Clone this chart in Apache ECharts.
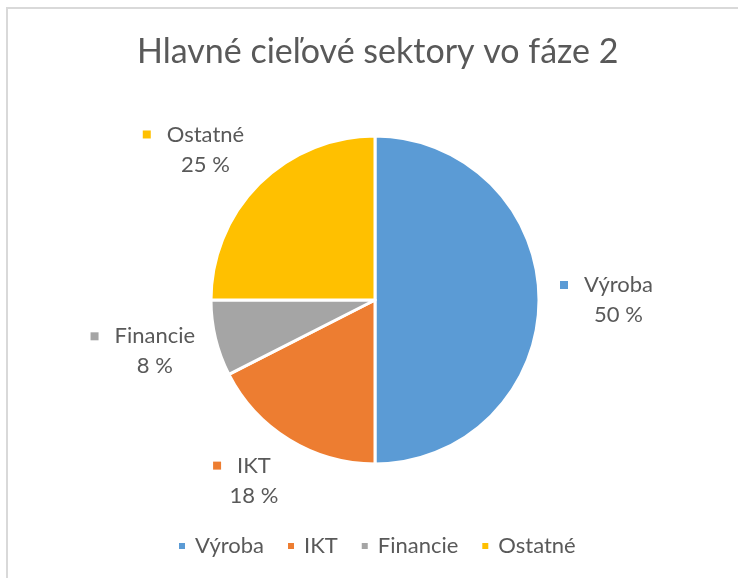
<!DOCTYPE html>
<html>
<head>
<meta charset="utf-8">
<script src="https://cdn.jsdelivr.net/npm/echarts@6/dist/echarts.min.js"></script>
<style>
html,body{margin:0;padding:0;background:#fff;}
#c{width:738px;height:578px;}
</style>
</head>
<body>
<div id="c"></div>
<script>
const titleText = 'Hlavné cieľové sektory vo fáze 2';
const categories = ['Výroba', 'IKT', 'Financie', 'Ostatné'];
const values = [50, 17.5, 7.5, 25];
const colors = ['#5B9BD5', '#ED7D31', '#A5A5A5', '#FFC000'];

const FONT = 'Lato';
const TXT = '#595959';
const CX = 375, CY = 300, R = 164, ANCHOR = 185;

const data = categories.map((n, i) => ({ name: n, value: values[i], itemStyle: { color: colors[i] } }));

const rich = { n: { fontFamily: FONT, fontSize: 22, color: TXT, lineHeight: 30, padding: [0, 0, 0, 16] },
               p: { fontFamily: FONT, fontSize: 22, color: TXT, lineHeight: 30, padding: [0, 0, 0, 24] } };
colors.forEach((c, i) => { rich['m' + i] = { backgroundColor: c, width: 8, height: 8 }; });

const total = values.reduce((a, b) => a + b, 0);
function midAngle(i) {
  let s = 0;
  for (let k = 0; k < i; k++) s += values[k];
  return (s + values[i] / 2) / total * 2 * Math.PI; // clockwise from top
}

const chart = echarts.init(document.getElementById('c'), null, { renderer: 'canvas' });
chart.setOption({
  backgroundColor: '#fff',
  animation: false,
  title: {
    text: titleText, left: 132, top: 30,
    textStyle: { fontFamily: FONT, fontSize: 34, fontWeight: 'normal', color: TXT }
  },
  legend: {
    bottom: 16, left: 172, icon: 'rect', itemWidth: 8, itemHeight: 8, itemGap: 22,
    textStyle: { fontFamily: FONT, fontSize: 22, color: TXT, padding: [0, 0, 0, 4] },
    data: categories
  },
  graphic: [
    { type: 'line', shape: { x1: 7, y1: 8, x2: 7, y2: 578 }, style: { stroke: '#d9d9d9', lineWidth: 2 } },
    { type: 'line', shape: { x1: 6, y1: 8, x2: 738, y2: 8 }, style: { stroke: '#d9d9d9', lineWidth: 2 } }
  ],
  series: [
    {
      type: 'pie', center: [CX, CY], radius: [0, R], startAngle: 90, clockwise: true,
      data: data, silent: true, avoidLabelOverlap: false,
      itemStyle: { borderColor: '#fff', borderWidth: 3 },
      label: {
        show: true, position: 'outside', align: 'left',
        formatter: p => '{m' + p.dataIndex + '|}{n|' + p.name + '}\n{p|' + Math.round(p.value) + ' %}',
        rich: rich
      },
      labelLine: { show: false },
      labelLayout: function (params) {
        const a = midAngle(params.dataIndex);
        const ux = Math.sin(a), uy = -Math.cos(a);
        const w = params.labelRect.width, h = params.labelRect.height;
        const ax = CX + ux * ANCHOR, ay = CY + uy * ANCHOR;
        const x = ax + Math.sign(ux) * w / 2;
        const y = ay + Math.sign(uy) * Math.pow(Math.abs(uy), 0.8) * h / 2;
        return { x: x, y: y, align: 'center', verticalAlign: 'middle' };
      }
    }
  ]
});
</script>
</body>
</html>
